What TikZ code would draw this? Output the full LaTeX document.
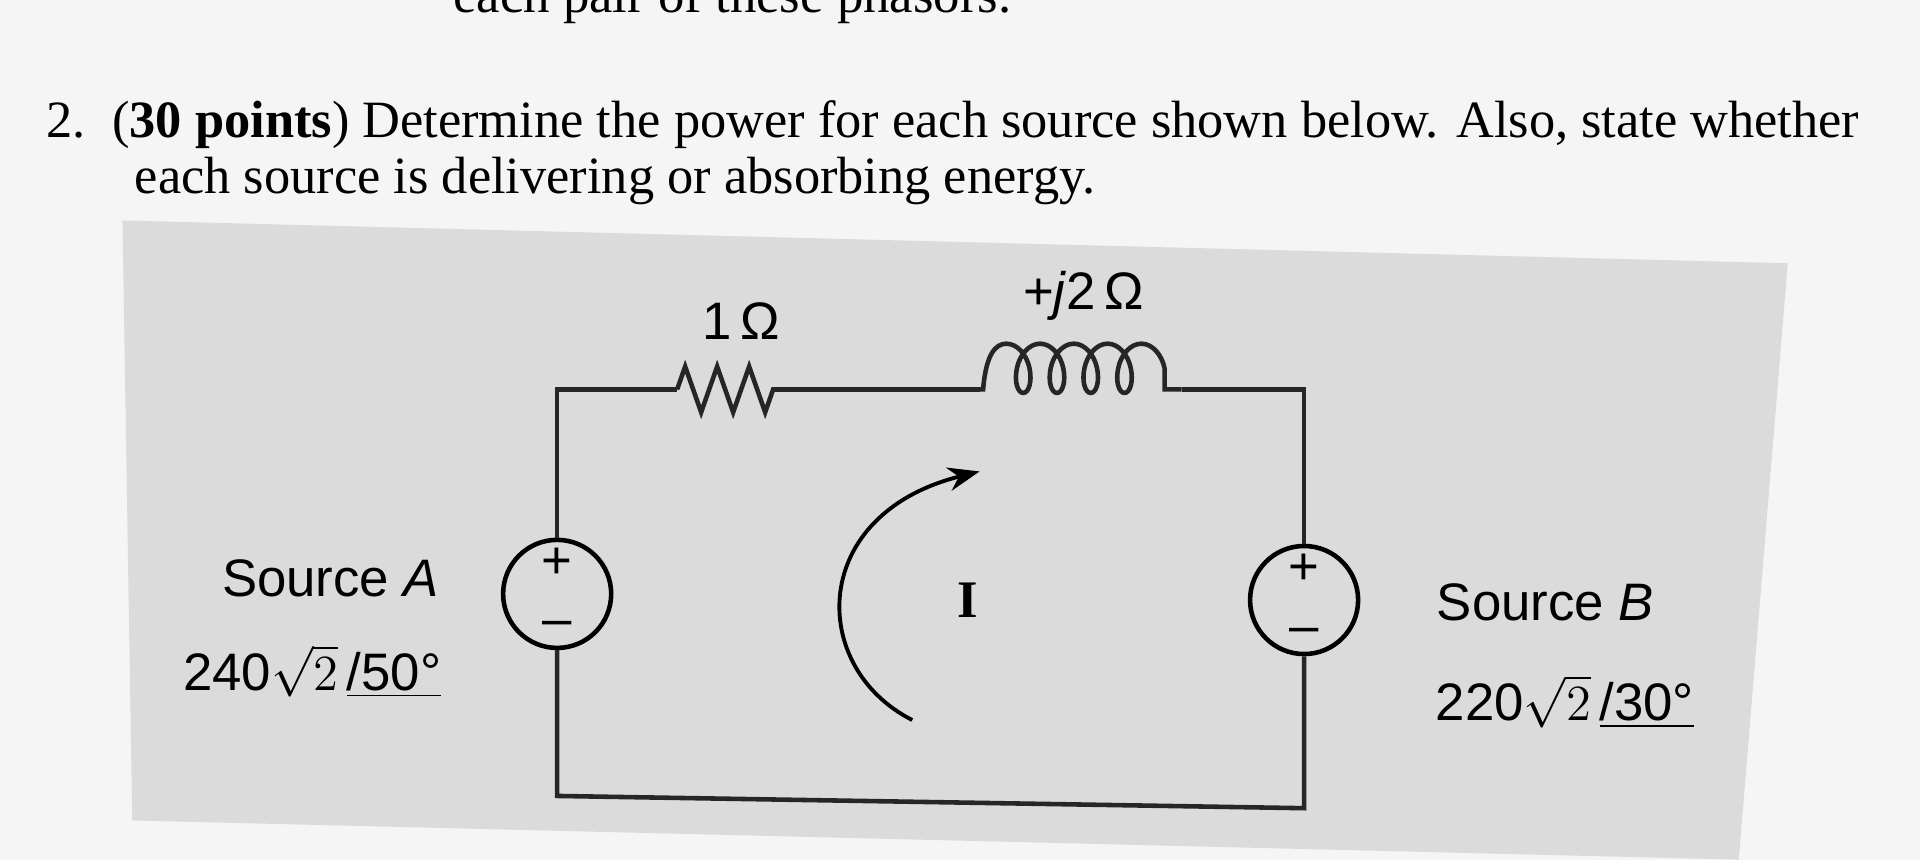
\documentclass[tikz,border=0pt]{standalone}
\usepackage{fontspec}
\setmainfont{Liberation Serif}
\newfontfamily\lsans{Liberation Sans}
\usetikzlibrary{decorations.pathmorphing,arrows.meta}
\begin{document}
\begin{tikzpicture}[x=0.012245cm,y=-0.012245cm,
  wire/.style={line width=1.3pt,black!85},
  lab/.style={font=\lsans\fontsize{15}{18}\selectfont}]
\useasboundingbox (0,0) rectangle (1568,702);
\fill[gray!8] (0,0) rectangle (1568,702);
\fill[gray!28] (100,180) -- (1460,215) -- (1420,702) -- (108,670) -- cycle;
\node[anchor=base west,font=\fontsize{15}{16}\selectfont] (t0) at (360,10) {each pair of these phasors.};
\node[anchor=base west,font=\fontsize{14.9}{16}\selectfont] (t1) at (28,112) {2.\ \ (\textbf{30 points}) Determine the power for each source shown below. Also, state whether};
\node[anchor=base west,font=\fontsize{14.9}{16}\selectfont] (t2) at (100,158) {each source is delivering or absorbing energy.};
\node[circle,draw,line width=1.3pt,minimum size=1.08cm,inner sep=0] (A) at (455,485) {};
\node[circle,draw,line width=1.3pt,minimum size=1.08cm,inner sep=0] (B) at (1065,490) {};
\node[lab] at (455,460) {+};
\node[lab] at (455,514) {\textendash};
\node[lab] at (1065,465) {+};
\node[lab] at (1065,519) {\textendash};
\coordinate (tl) at (455,318);
\coordinate (r1) at (553,318);
\coordinate (r2) at (632,318);
\coordinate (l1) at (800,318);
\coordinate (l2) at (965,318);
\coordinate (tr) at (1065,318);
\coordinate (bl) at (455,650);
\coordinate (br) at (1065,660);
\draw[wire] (A.north) -- (tl) -- (r1);
\draw[wire,decorate,decoration={zigzag,segment length=9.1pt,amplitude=6.5pt}] (r1) -- (r2);
\draw[wire] (r2) -- (l1);
\draw[wire,decorate,decoration={coil,aspect=0.6,segment length=9.6pt,amplitude=7pt,raise=6pt,pre length=1pt,post length=1pt}] (l1) -- (l2);
\draw[wire] (l2) -- (tr) -- (B.north);
\draw[wire] (A.south) -- (bl) -- (br) -- (B.south);
\node[lab] at (605,262) {1\,Ω};
\node[lab] at (885,242) {+\textit{j}2\,Ω};
\node[font=\fontsize{15}{16}\selectfont\bfseries] (I) at (790,490) {I};
\draw[line width=1.1pt,-{Stealth[length=9pt]}] (745,588) .. controls (660,545) and (660,420) .. (800,385);
\node[lab] at (270,472) {Source \textit{A}};
\node[lab] at (255,548) {240$\sqrt{2}$\,\underline{/50°}};
\node[lab] at (1262,492) {Source \textit{B}};
\node[lab] at (1278,573) {220$\sqrt{2}$\,\underline{/30°}};
\end{tikzpicture}
\end{document}
